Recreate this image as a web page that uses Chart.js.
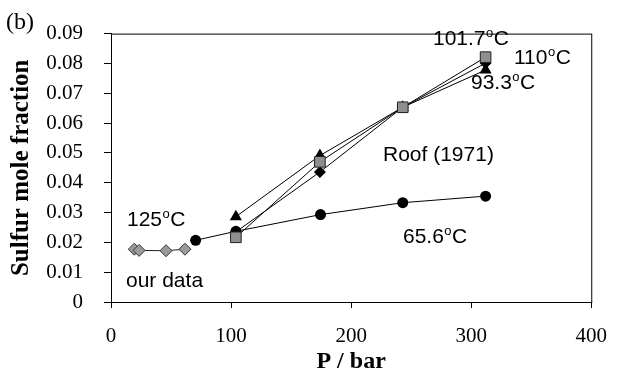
<!DOCTYPE html>
<html lang="en">
<head>
    <meta charset="UTF-8">
    <title>Sulfur mole fraction vs pressure</title>
    <script src="https://cdn.jsdelivr.net/npm/chart.js"></script>
    <style>
        body { margin: 0; background: #fff; }
        #wrap { width: 623px; height: 376px; }
    </style>
</head>
<body>
    <div id="wrap"><canvas id="sulfurChart"></canvas></div>

    <script>
        // our data (grey diamonds)
        const ourP = [19.4, 23.4, 45.8, 61.6];
        const ourX = [0.0177, 0.0173, 0.0172, 0.0177];

        // 65.6 C (black circles)
        const p656 = [70.5, 104, 174.5, 243, 312];
        const x656 = [0.0207, 0.0237, 0.0293, 0.0333, 0.0355];

        // Roof (1971) isotherms
        const roofP = [104, 174, 243, 312];
        const x1017 = [0.0217, 0.0470, 0.0653, 0.0821];  // grey squares
        const x110 = [0.0235, 0.0436, 0.0653, 0.0801];   // black diamonds
        const x933 = [0.0286, 0.0491, 0.0653, 0.0778];   // black triangles

        const yTicks = [0, 0.01, 0.02, 0.03, 0.04, 0.05, 0.06, 0.07, 0.08, 0.09];
        const xTicks = [0, 100, 200, 300, 400];

        const pts = (xs, ys) => xs.map((x, i) => ({ x: x, y: ys[i] }));

        // text notes: text before the degree sign, text after it
        const notes = [
            { a: '101.7', b: 'C', left: 433, base: 45 },
            { a: '110', b: 'C', left: 514, base: 64 },
            { a: '93.3', b: 'C', left: 471, base: 89 },
            { a: 'Roof (1971)', b: null, left: 383, base: 161 },
            { a: '125', b: 'C', left: 127, base: 226 },
            { a: '65.6', b: 'C', left: 403, base: 243 },
            { a: 'our data', b: null, left: 126, base: 287 }
        ];

        const sansFont = '21px "Liberation Sans", Arial, sans-serif';
        const supFont = '13px "Liberation Sans", Arial, sans-serif';
        const serif = '"Liberation Serif", "Times New Roman", serif';

        const notesPlugin = {
            id: 'notes',
            afterDraw(chart) {
                const ctx = chart.ctx;
                const area = chart.chartArea;
                ctx.save();
                // frame round the plot
                ctx.strokeStyle = '#000';
                ctx.lineWidth = 1;
                ctx.strokeRect(area.left + 0.5, area.top + 0.5, area.right - area.left, area.bottom - area.top);

                ctx.fillStyle = '#000';
                ctx.textBaseline = 'alphabetic';
                ctx.textAlign = 'left';
                notes.forEach(n => {
                    ctx.font = sansFont;
                    ctx.fillText(n.a, n.left, n.base);
                    if (n.b) {
                        let x = n.left + ctx.measureText(n.a).width + 0.5;
                        ctx.font = supFont;
                        ctx.fillText('o', x, n.base - 8);
                        x += ctx.measureText('o').width + 0.5;
                        ctx.font = sansFont;
                        ctx.fillText(n.b, x, n.base);
                    }
                });

                // panel letter
                ctx.font = '24px ' + serif;
                ctx.fillText('(b)', 6, 29);
                ctx.restore();
            }
        };

        const ctx = document.getElementById('sulfurChart').getContext('2d');
        new Chart(ctx, {
            type: 'scatter',
            data: {
                datasets: [
                    {
                        label: '101.7 C',
                        data: pts(roofP, x1017),
                        showLine: true,
                        borderColor: '#000',
                        borderWidth: 1,
                        pointStyle: 'rect',
                        pointRadius: 7.5,
                        pointBackgroundColor: '#8f8f8f',
                        pointBorderColor: '#222',
                        pointBorderWidth: 1
                    },
                    {
                        label: '110 C',
                        data: pts(roofP, x110),
                        showLine: true,
                        borderColor: '#000',
                        borderWidth: 1,
                        pointStyle: 'rectRot',
                        pointRadius: 6,
                        pointBackgroundColor: '#000',
                        pointBorderColor: '#000',
                        pointBorderWidth: 0
                    },
                    {
                        label: '93.3 C',
                        data: pts(roofP, x933),
                        showLine: true,
                        borderColor: '#000',
                        borderWidth: 1,
                        pointStyle: 'triangle',
                        pointRadius: 7,
                        pointBackgroundColor: '#000',
                        pointBorderColor: '#000',
                        pointBorderWidth: 0
                    },
                    {
                        label: '65.6 C',
                        data: pts(p656, x656),
                        showLine: true,
                        borderColor: '#000',
                        borderWidth: 1,
                        pointStyle: 'circle',
                        pointRadius: 5.5,
                        pointBackgroundColor: '#000',
                        pointBorderColor: '#000',
                        pointBorderWidth: 0
                    },
                    {
                        label: 'our data',
                        data: pts(ourP, ourX),
                        showLine: true,
                        borderColor: '#222',
                        borderWidth: 1,
                        pointStyle: 'rectRot',
                        pointRadius: 6,
                        pointBackgroundColor: '#9a9a9a',
                        pointBorderColor: '#333',
                        pointBorderWidth: 1
                    }
                ]
            },
            options: {
                responsive: true,
                maintainAspectRatio: false,
                animation: false,
                layout: { padding: { top: 20, right: 16, left: 0, bottom: 0 } },
                plugins: {
                    legend: { display: false },
                    tooltip: { enabled: false }
                },
                scales: {
                    x: {
                        type: 'linear',
                        min: 0,
                        max: 400,
                        afterBuildTicks: s => { s.ticks = xTicks.map(v => ({ value: v })); },
                        afterFit: s => { s.height = 74; },
                        grid: { drawOnChartArea: false, tickLength: 6, color: '#000' },
                        border: { color: '#000', width: 1 },
                        ticks: {
                            color: '#000',
                            padding: 16,
                            maxRotation: 0,
                            font: { family: serif, size: 21 }
                        },
                        title: {
                            display: true,
                            text: 'P / bar',
                            color: '#000',
                            padding: { top: 0, bottom: 0 },
                            font: { family: serif, size: 24, weight: 'bold' }
                        }
                    },
                    y: {
                        type: 'linear',
                        min: 0,
                        max: 0.09,
                        afterBuildTicks: s => { s.ticks = yTicks.map(v => ({ value: v })); },
                        afterFit: s => { s.width = 111; },
                        grid: { drawOnChartArea: false, tickLength: 7, color: '#000' },
                        border: { color: '#000', width: 1 },
                        ticks: {
                            color: '#000',
                            padding: 21,
                            callback: v => String(Number(v.toFixed(2))),
                            font: { family: serif, size: 21 }
                        },
                        title: {
                            display: true,
                            text: 'Sulfur mole fraction',
                            color: '#000',
                            padding: { top: 7, bottom: 0 },
                            font: { family: serif, size: 25, weight: 'bold' }
                        }
                    }
                }
            },
            plugins: [notesPlugin]
        });
    </script>
</body>
</html>
